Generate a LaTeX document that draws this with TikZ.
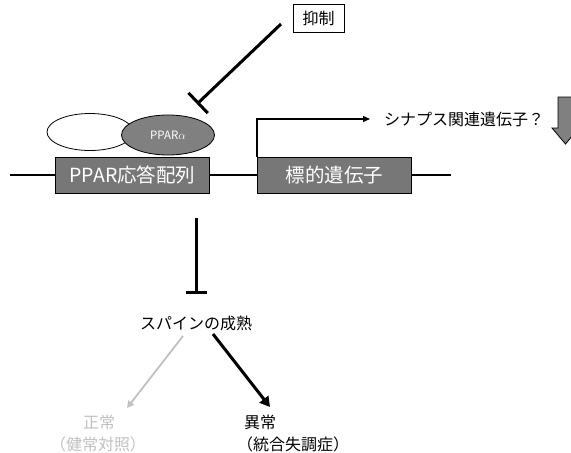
\documentclass[tikz,border=0pt]{standalone}
\usepackage{fontspec}
\setmainfont{Noto Sans CJK JP}
\usetikzlibrary{arrows.meta,shapes.geometric}
\definecolor{boxgray}{HTML}{777777}
\definecolor{ellgray}{HTML}{808080}
\definecolor{lightg}{HTML}{C0C0C0}
\tikzset{
  genebox/.style={draw=black, line width=0.9pt, fill=boxgray, text=white, minimum width=154pt, minimum height=36pt, inner sep=0pt, font=\fontsize{19.5}{22}\selectfont},
  jtext/.style={inner sep=0pt, font=\fontsize{16}{19}\selectfont},
  inhib/.style={line width=3pt},
}
\begin{document}
\begin{tikzpicture}[x=1pt,y=-1pt]
\useasboundingbox (0,0) rectangle (571,453);
% DNA line pieces
\node[genebox] (ppre) at (132.5,175) {PPAR応答配列};
\node[genebox] (tg) at (334.5,175) {標的遺伝子};
\coordinate (dl) at (10,175);
\coordinate (dr) at (451,175);
\draw[line width=1.2pt] (dl) -- (ppre.west);
\draw[line width=1.2pt] (ppre.east) -- (tg.west);
\draw[line width=1.2pt] (tg.east) -- (dr);
% ellipses
\node[ellipse, draw=black, line width=0.8pt, fill=white, minimum width=86pt, minimum height=37pt, inner sep=0pt] (partner) at (90,132) {};
\node[ellipse, draw=black, line width=0.8pt, fill=ellgray, text=white, minimum width=93pt, minimum height=40pt, inner sep=0pt, font=\fontsize{11.5}{13}\selectfont] (ppara) at (168,135) {PPAR$\alpha$};
% inhibitor
\node[draw=black, line width=0.8pt, jtext, minimum width=51pt, minimum height=28pt] (yoku) at (318.5,18) {抑制};
\coordinate (ys) at (281,24);
\coordinate (ye) at (197,104);
\draw[inhib, -{Bar[width=28pt,line width=3pt]}] (ys) -- (ye);
% transcription arrow
\node[jtext, anchor=west] (syn) at (384,119) {シナプス関連遺伝子？};
\coordinate (tse) at (370,119);
\draw[line width=1.2pt, -{Triangle[length=7pt,width=6pt]}] (tg.north west) |- (tse);
% down block arrow
\draw[line width=0.8pt, fill=ellgray] (558,97) -- (573,97) -- (573,128) -- (579,128) -- (565.5,144) -- (552,128) -- (558,128) -- cycle;
% spine inhibition
\coordinate (vs) at (196,218);
\node[jtext] (spine) at (196,323) {スパインの成熟};
\coordinate (ve) at (196,294);
\draw[inhib, -{Bar[width=21pt,line width=3pt]}] (vs) -- (ve);
% outcomes
\node[jtext, text=lightg] (norm) at (99,422) {正常};
\node[jtext, text=lightg] (normb) at (98,444) {（健常対照）};
\node[jtext, anchor=west] (abn) at (244,422) {異常};
\node[jtext, anchor=west] (abnb) at (237,444) {（統合失調症）};
\coordinate (gs) at (183,336);
\coordinate (ge) at (127,408);
\draw[lightg, line width=1.8pt, -{Triangle[length=7pt,width=7pt]}] (gs) -- (ge);
\coordinate (bs) at (213,334);
\coordinate (be) at (270,407);
\draw[black, line width=3pt, -{Triangle[length=10pt,width=11pt]}] (bs) -- (be);
\end{tikzpicture}
\end{document}
